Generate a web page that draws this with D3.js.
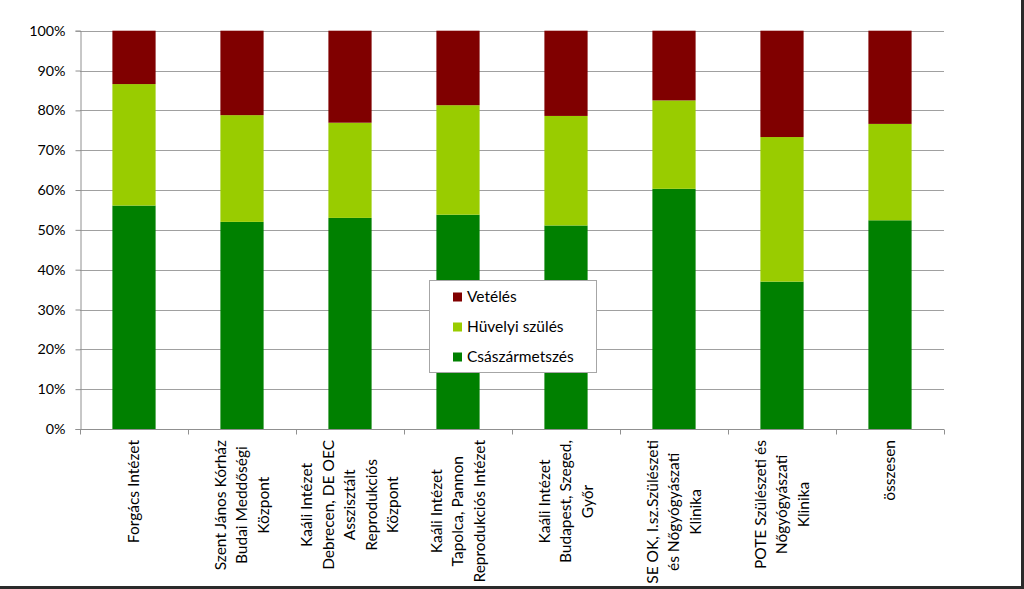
<!DOCTYPE html>
<html>
<head>
<meta charset="utf-8">
<script src="https://cdn.jsdelivr.net/npm/d3@7"></script>
<style>
  html, body { margin: 0; padding: 0; background: #fff; }
  svg { display: block; }
  text { font-family: Lato, "Open Sans", sans-serif; fill: #000; }
</style>
</head>
<body>
<svg id="chart" width="1024" height="589"></svg>
<script>
// ---- data ----
const categories = [
  ["Forgács Intézet"],
  ["Szent János Kórház", "Budai Meddőségi", "Központ"],
  ["Kaáli Intézet", "Debrecen, DE OEC", "Asszisztált", "Reprodukciós", "Központ"],
  ["Kaáli Intézet", "Tapolca, Pannon", "Reprodukciós Intézet"],
  ["Kaáli Intézet", "Budapest,  Szeged,", "Győr"],
  ["SE OK, I.sz.Szülészeti", "és Nőgyógyászati", "Klinika"],
  ["POTE Szülészeti és", "Nőgyógyászati", "Klinika"],
  ["összesen"]
];
const seriesNames = ["Császármetszés", "Hüvelyi szülés", "Vetélés"];
const csaszar  = [56.1, 52.0, 53.0, 53.8, 51.1, 60.3, 37.0, 52.4];
const huvelyi  = [30.5, 26.8, 23.9, 27.5, 27.5, 22.2, 36.3, 24.2];
const veteles  = [13.4, 21.2, 23.1, 18.7, 21.4, 17.5, 26.7, 23.4];
const yTicks = [0, 10, 20, 30, 40, 50, 60, 70, 80, 90, 100];
const colors = ["#008000", "#99CC00", "#800000"];

// ---- layout ----
const svg = d3.select("#chart");
const mLeft = 80, mRight = 944, mTop = 30.7, mBottom = 429;
const labelFont = "15.5px";

const rows = categories.map((c, i) => {
  const tot = csaszar[i] + huvelyi[i] + veteles[i];
  return { key: i, c: csaszar[i] / tot * 100, h: huvelyi[i] / tot * 100, v: veteles[i] / tot * 100 };
});
const stack = d3.stack().keys(["c", "h", "v"])(rows);

const x = d3.scaleBand().domain(d3.range(categories.length)).range([mLeft, mRight]).paddingInner(0.6).paddingOuter(0.3);
const xOuter = d3.scaleBand().domain(d3.range(categories.length)).range([mLeft, mRight]);
const y = d3.scaleLinear().domain([0, 100]).range([mBottom, mTop]);

// gridlines
svg.append("g").selectAll("line").data(yTicks.filter(d => d > 0)).join("line")
  .attr("x1", mLeft).attr("x2", mRight)
  .attr("y1", d => Math.round(y(d)) + 0.5).attr("y2", d => Math.round(y(d)) + 0.5)
  .attr("stroke", "#a0a0a0").attr("stroke-width", 1);

// bars
svg.append("g").selectAll("g").data(stack).join("g")
  .attr("fill", (d, i) => colors[i])
  .selectAll("rect").data(d => d).join("rect")
  .attr("x", (d, i) => x(i))
  .attr("width", x.bandwidth())
  .attr("y", d => y(d[1]))
  .attr("height", d => y(d[0]) - y(d[1]));

// y axis
const yAxis = d3.axisLeft(y).tickValues(yTicks).tickFormat(d => d + "%").tickSize(5).tickPadding(10);
const gy = svg.append("g").attr("transform", `translate(${mLeft + 0.5},0)`).call(yAxis);
gy.select(".domain").attr("stroke", "#909090");
gy.selectAll(".tick line").attr("stroke", "#909090");
gy.selectAll(".tick text").style("font-family", "Lato, 'Open Sans', sans-serif").style("font-size", "14.3px").attr("fill", "#000");

// x axis (ticks at band boundaries)
const gx = svg.append("g").attr("transform", `translate(0,${Math.round(mBottom) + 0.5})`);
gx.append("line").attr("x1", mLeft).attr("x2", mRight).attr("stroke", "#909090");
gx.selectAll("line.tk").data(d3.range(categories.length + 1)).join("line").attr("class", "tk")
  .attr("x1", i => Math.round(mLeft + i * xOuter.step()) + 0.5)
  .attr("x2", i => Math.round(mLeft + i * xOuter.step()) + 0.5)
  .attr("y1", 0).attr("y2", 5).attr("stroke", "#909090");

// x labels rotated
const lineH = 21.5;
const lab = svg.append("g").selectAll("g").data(categories).join("g")
  .attr("transform", (d, i) => `translate(${xOuter(i) + xOuter.bandwidth() / 2},440) rotate(-90)`);
lab.each(function (lines) {
  const g = d3.select(this);
  const ts = lines.map((t, j) => g.append("text")
    .attr("y", (j - (lines.length - 1) / 2) * lineH)
    .attr("dy", "0.35em")
    .attr("text-anchor", "middle")
    .style("font-size", labelFont)
    .text(t));
  const maxW = d3.max(ts, t => t.node().getComputedTextLength());
  ts.forEach(t => t.attr("x", -maxW / 2));
});

// legend
const lg = svg.append("g");
lg.append("rect").attr("x", 429.5).attr("y", 280.5).attr("width", 167).attr("height", 92)
  .attr("fill", "#fff").attr("stroke", "#a6a6a6");
const legendItems = [2, 1, 0];
legendItems.forEach((si, k) => {
  const cy = 297 + k * 30;
  lg.append("rect").attr("x", 453).attr("y", cy - 4.5).attr("width", 9).attr("height", 9).attr("fill", colors[si]);
  lg.append("text").attr("x", 467).attr("y", cy).attr("dy", "0.35em").style("font-size", labelFont).text(seriesNames[si]);
});

// outer frame (right & bottom edges)
svg.append("line").attr("x1", 1022.5).attr("x2", 1022.5).attr("y1", 0).attr("y2", 589).attr("stroke", "#2a2a2a").attr("stroke-width", 3);
svg.append("line").attr("x1", 0).attr("x2", 1024).attr("y1", 587.5).attr("y2", 587.5).attr("stroke", "#2a2a2a").attr("stroke-width", 3);
</script>
</body>
</html>
